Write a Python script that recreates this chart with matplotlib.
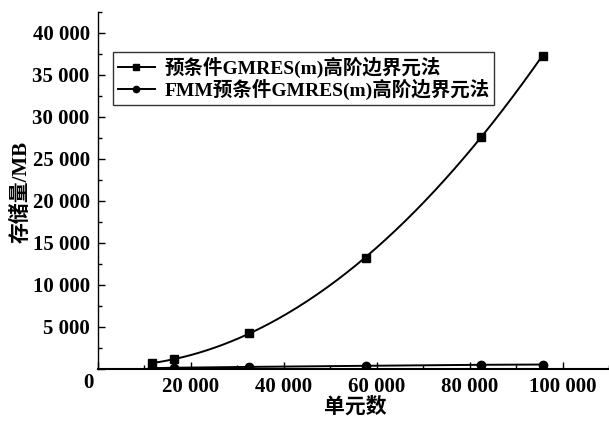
import numpy as np
import matplotlib
matplotlib.use('Agg')
import matplotlib.pyplot as plt
from matplotlib.ticker import MultipleLocator, FuncFormatter

plt.rcParams['font.family'] = ['Liberation Serif', 'Noto Sans CJK SC']
plt.rcParams['font.weight'] = 'bold'

# data
elements = [11600, 16300, 32500, 57600, 82400, 95700]
mem_precond = [700, 1150, 4250, 13250, 27600, 37300]
mem_fmm = [100, 150, 250, 380, 500, 530]

label_precond = '预条件GMRES(m)高阶边界元法'
label_fmm = 'FMM预条件GMRES(m)高阶边界元法'

fig = plt.figure(figsize=(6.09, 4.21), dpi=100)
ax = fig.add_axes([98 / 609, 52 / 421, 1 - 98 / 609, (369 - 12) / 421])

# smooth curve through the preconditioned points (drawn like the original fit)
coef = np.polyfit(elements, mem_precond, 3)
xs = np.linspace(elements[0], elements[-1], 200)
ax.plot(xs, np.polyval(coef, xs), color='black', lw=1.4)
ax.plot(elements, mem_precond, 's', color='black', ms=5.5)
ax.plot(elements, mem_fmm, '-o', color='black', lw=1.4, ms=6)

# legend proxies
h1, = ax.plot([], [], '-s', color='black', lw=1.4, ms=4, label=label_precond)
h2, = ax.plot([], [], '-o', color='black', lw=1.4, ms=4.5, label=label_fmm)
leg = ax.legend(handles=[h1, h2], loc='upper left', bbox_to_anchor=(0.029, 0.888),
                frameon=True, fancybox=False, edgecolor='black', fontsize=14,
                handlelength=1.9, handletextpad=0.5, borderpad=0.25,
                labelspacing=0.05, borderaxespad=0)
leg.get_frame().set_linewidth(1.0)

ax.set_xlim(0, 110000)
ax.set_ylim(0, 42500)
ax.xaxis.set_major_locator(MultipleLocator(20000))
ax.xaxis.set_minor_locator(MultipleLocator(10000))
ax.yaxis.set_major_locator(MultipleLocator(5000))
ax.yaxis.set_minor_locator(MultipleLocator(2500))


def fmt(v, pos):
    if v == 0:
        return ''
    s = f'{int(v):,}'.replace(',', ' ')
    return s


ax.xaxis.set_major_formatter(FuncFormatter(fmt))
ax.yaxis.set_major_formatter(FuncFormatter(fmt))
ax.tick_params(which='both', direction='in', labelsize=15, width=1)
ax.tick_params(which='major', length=5)
ax.tick_params(which='minor', length=3)
ax.tick_params(axis='x', pad=6)
ax.tick_params(axis='y', pad=6)
for lab in ax.get_xticklabels() + ax.get_yticklabels():
    lab.set_fontweight('bold')

ax.spines['top'].set_visible(False)
ax.spines['right'].set_visible(False)
ax.spines['left'].set_linewidth(1.0)
ax.spines['bottom'].set_linewidth(1.5)

fig.text(88 / 609, 1 - 383 / 421, '0', ha='center', va='center', fontsize=15, fontweight='bold')
fig.text(22 / 609, 1 - 192 / 421, '存储量/MB', rotation=90, ha='center', va='center', fontsize=15)
fig.text(355 / 609, 1 - 408 / 421, '单元数', ha='center', va='center', fontsize=15)

fig.savefig('out.png', dpi=100)
